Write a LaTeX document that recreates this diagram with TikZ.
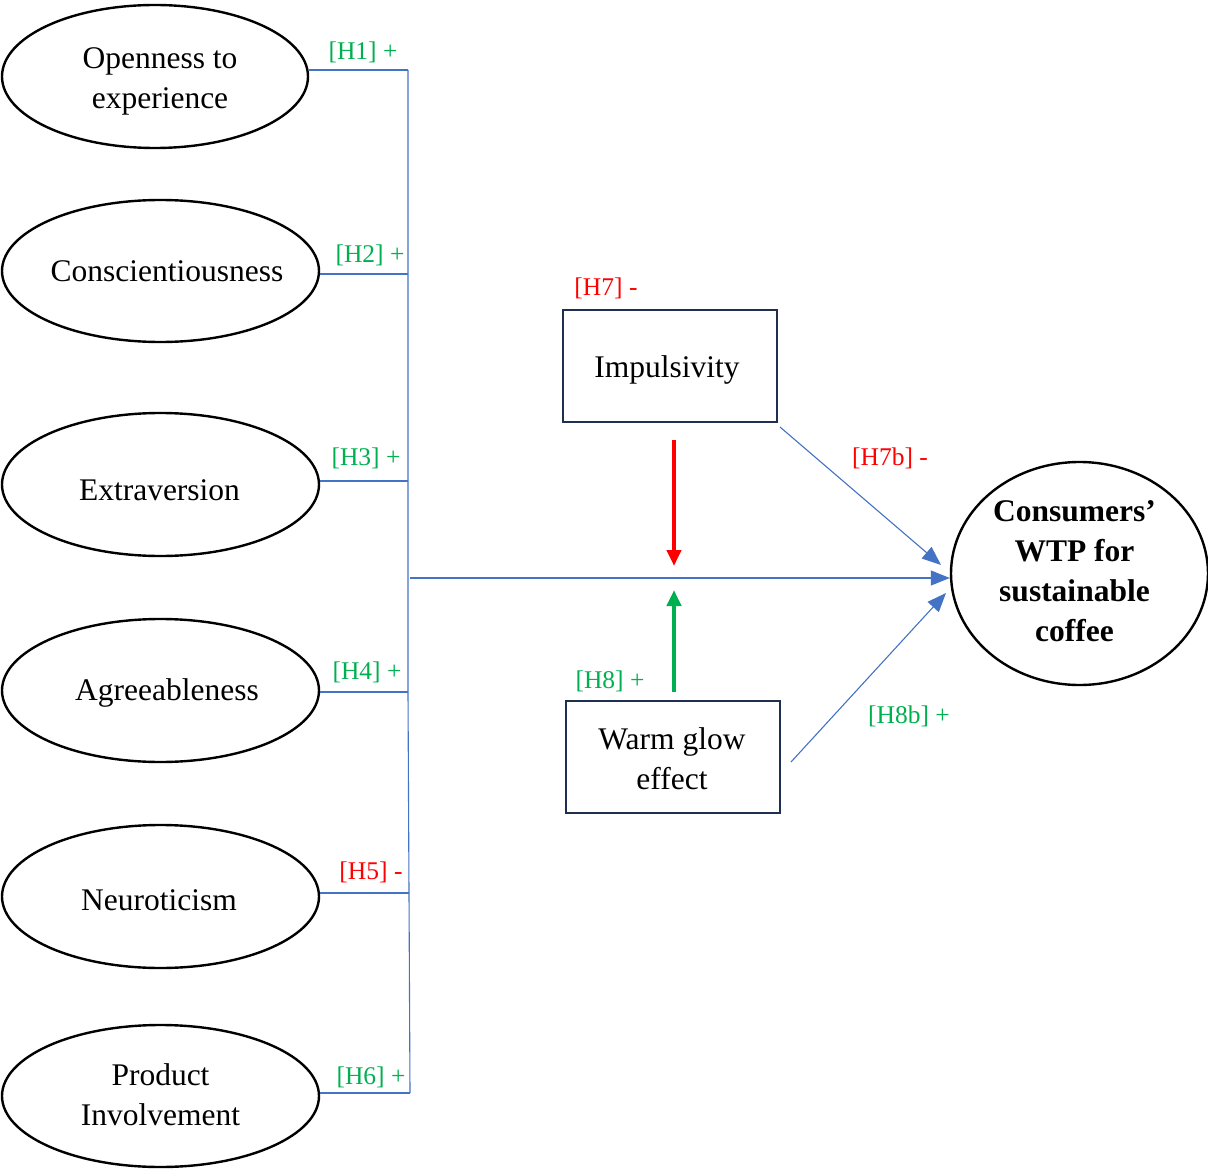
\documentclass[tikz,border=0pt]{standalone}
\usepackage{fontspec}
\setmainfont{Liberation Serif}
\usetikzlibrary{shapes.geometric,arrows.meta}
\definecolor{hgreen}{HTML}{00B050}
\definecolor{hred}{HTML}{FF0000}
\definecolor{lblue}{HTML}{4472C4}
\definecolor{navy}{HTML}{1F2F4F}
% #1 = 2 x horizontal shift, #2 = distance of last baseline below centre, #3 = lines
\newcommand{\mytxt}[3]{\makebox[0pt]{\hspace*{#1}\raisebox{-#2}[0pt][0pt]{\begin{tabular}[b]{@{}c@{}}#3\end{tabular}}}}
\begin{document}
\begin{tikzpicture}[x=1pt,y=-1pt,
  construct/.style={draw=black,line width=2.4pt,ellipse,inner sep=0pt,align=center,
    font=\fontsize{31.5}{40}\selectfont},
  varbox/.style={draw=navy,line width=2.4pt,rectangle,inner sep=0pt,align=center,
    font=\fontsize{31.5}{40}\selectfont},
  link/.style={draw=lblue,line width=1.1pt},
  larrow/.style={link,-{Triangle[length=19pt,width=15pt]}},
  hyp/.style={font=\fontsize{25.5}{30}\selectfont,inner sep=0pt},
  poshyp/.style={hyp,text=hgreen},
  neghyp/.style={hyp,text=hred},
  modarrow/.style={line width=4pt,-{Triangle[length=16pt,width=14pt]}}]
\useasboundingbox (0,0) rectangle (1208,1169);

% constructs
\node[construct,minimum width=306pt,minimum height=143pt] (open) at (155,76.5) {\mytxt{10pt}{32.5pt}{Openness to\\experience}};
\node[construct,minimum width=317pt,minimum height=142pt] (consc) at (160.5,271) {\mytxt{13pt}{11pt}{Conscientiousness}};
\node[construct,minimum width=317pt,minimum height=143pt] (extra) at (160.5,484.5) {\mytxt{-2pt}{16pt}{Extraversion}};
\node[construct,minimum width=317pt,minimum height=143pt] (agree) at (160.5,690.5) {\mytxt{13pt}{9.5pt}{Agreeableness}};
\node[construct,minimum width=317pt,minimum height=143pt] (neuro) at (160.5,896.5) {\mytxt{-3pt}{14pt}{Neuroticism}};
\node[construct,minimum width=317pt,minimum height=142pt] (prod) at (160.5,1096) {\mytxt{0pt}{29.5pt}{Product\\Involvement}};
\node[construct,minimum width=257pt,minimum height=223pt,font=\bfseries\fontsize{31.5}{40}\selectfont] (wtp) at (1079.5,573.5) {\mytxt{-10pt}{68pt}{Consumers’\\WTP for\\sustainable\\coffee}};

% boxes
\node[varbox,minimum width=214pt,minimum height=112pt] (imp) at (670,366) {\mytxt{-6pt}{11.5pt}{Impulsivity}};
\node[varbox,minimum width=214pt,minimum height=112pt] (warm) at (673,757) {\mytxt{-2pt}{32pt}{Warm glow\\effect}};

% bus coordinates
\coordinate (b1) at (408,70);
\coordinate (b2) at (408,274);
\coordinate (b3) at (408,481);
\coordinate (b4) at (408,692);
\coordinate (b5) at (409,893);
\coordinate (b6) at (410,1093);
\coordinate (bm) at (410,578);
\coordinate (mred) at (674,566);
\coordinate (mgreen) at (674,590);
\coordinate (is) at (780,427);
\coordinate (ie) at (941,565);
\coordinate (ws) at (791,762);
\coordinate (we) at (946,593);
\coordinate (rs) at (674,440);
\coordinate (gs) at (674,692);

\draw[link] (b1 -| open.east) -- (b1);
\draw[link] (b2 -| consc.east) -- (b2);
\draw[link] (b3 -| extra.east) -- (b3);
\draw[link] (b4 -| agree.east) -- (b4);
\draw[link] (b5 -| neuro.east) -- (b5);
\draw[link] (b6 -| prod.east) -- (b6);
\draw[link] (b1) -- (b2) -- (b3) -- (b4) -- (b5) -- (b6);

\draw[larrow] (bm) -- (bm -| wtp.west);
\draw[larrow] (is) -- (ie);
\draw[larrow] (ws) -- (we);

\draw[modarrow,draw=hred,fill=hred] (rs) -- (mred);
\draw[modarrow,draw=hgreen,fill=hgreen] (gs) -- (mgreen);

% labels
\node[poshyp] (l1) at (363,52) {[H1] +};
\node[poshyp] (l2) at (370,255) {[H2] +};
\node[poshyp] (l3) at (366,458) {[H3] +};
\node[poshyp] (l4) at (367,672) {[H4] +};
\node[neghyp] (l5) at (371,872) {[H5] -};
\node[poshyp] (l6) at (371,1077) {[H6] +};
\node[neghyp] (l7) at (606,288) {[H7] -};
\node[poshyp] (l8) at (610,681) {[H8] +};
\node[neghyp] (l7b) at (890,458) {[H7b] -};
\node[poshyp] (l8b) at (909,716) {[H8b] +};
\end{tikzpicture}
\end{document}
